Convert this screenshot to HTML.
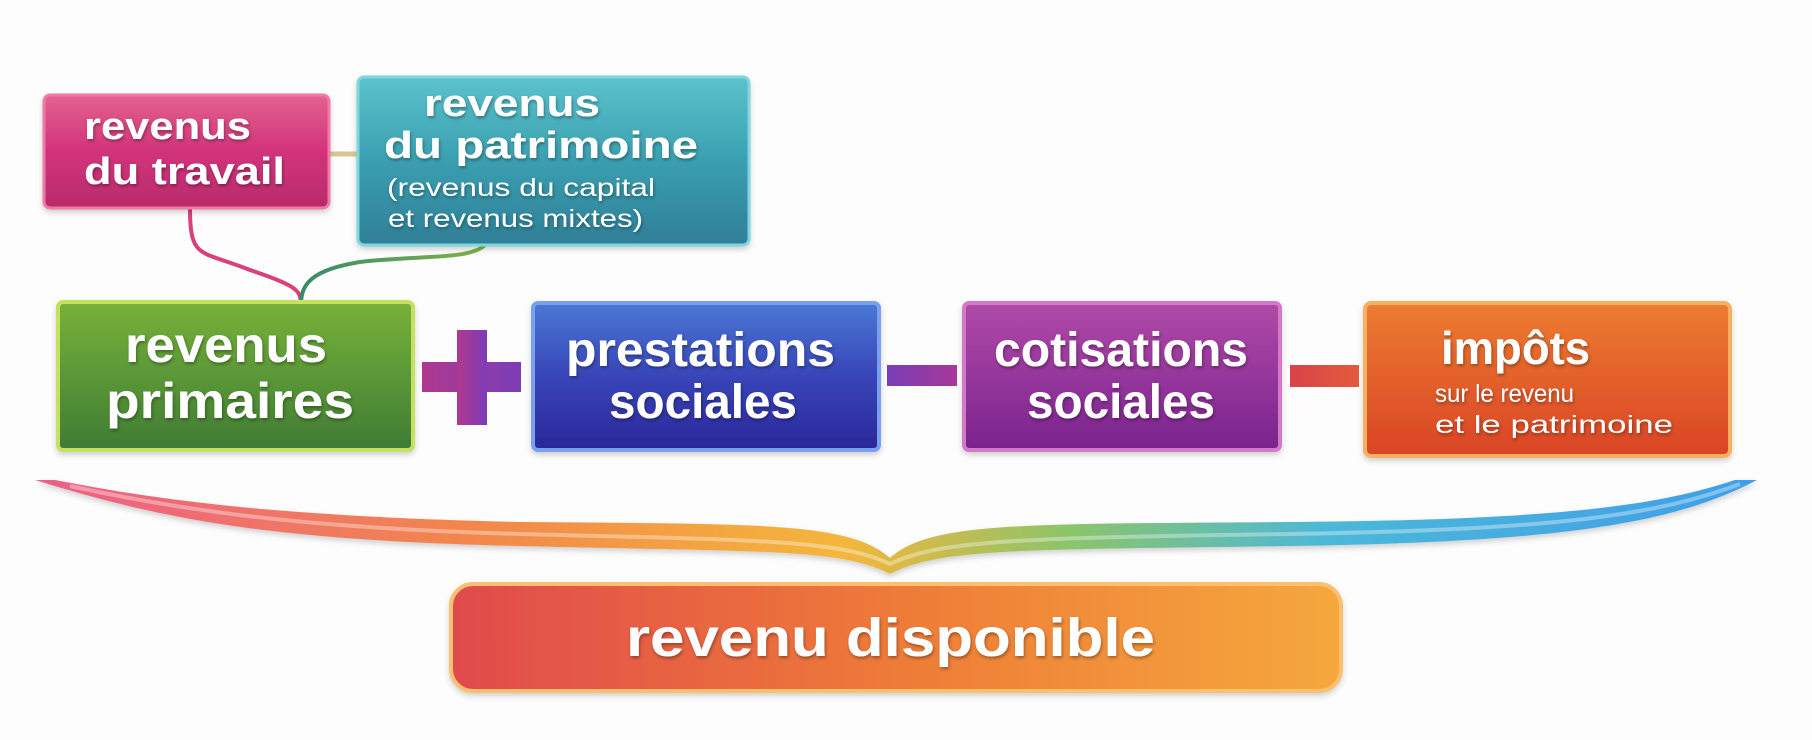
<!DOCTYPE html>
<html><head><meta charset="utf-8"><style>
html,body{margin:0;padding:0;background:#fdfdfd;}
svg{display:block;}
text{font-family:"Liberation Sans",sans-serif;fill:#fff;font-weight:bold;}
</style></head><body>
<svg width="1812" height="740" viewBox="0 0 1812 740" xmlns="http://www.w3.org/2000/svg">
<defs>
<linearGradient id="gPink" x1="0" y1="0" x2="0" y2="1"><stop offset="0" stop-color="#e2628e"/><stop offset="0.5" stop-color="#d2337c"/><stop offset="1" stop-color="#b92b6c"/></linearGradient>
<linearGradient id="gTeal" x1="0" y1="0" x2="0" y2="1"><stop offset="0" stop-color="#5cc2cc"/><stop offset="0.5" stop-color="#3a9fb0"/><stop offset="1" stop-color="#2f7f97"/></linearGradient>
<linearGradient id="gGreen" x1="0" y1="0" x2="0" y2="1"><stop offset="0" stop-color="#77b23a"/><stop offset="1" stop-color="#3f7c34"/></linearGradient>
<linearGradient id="gBlue" x1="0" y1="0" x2="0" y2="1"><stop offset="0" stop-color="#4a78d4"/><stop offset="0.5" stop-color="#3845b8"/><stop offset="1" stop-color="#2a279a"/></linearGradient>
<linearGradient id="gPurple" x1="0" y1="0" x2="0" y2="1"><stop offset="0" stop-color="#b04aa8"/><stop offset="1" stop-color="#7a238e"/></linearGradient>
<linearGradient id="gOrange" x1="0" y1="0" x2="0" y2="1"><stop offset="0" stop-color="#ec7c30"/><stop offset="1" stop-color="#da4426"/></linearGradient>
<linearGradient id="gBottom" x1="0" y1="0" x2="1" y2="0"><stop offset="0" stop-color="#e04a4c"/><stop offset="0.5" stop-color="#ee7b38"/><stop offset="1" stop-color="#f5a83c"/></linearGradient>
<linearGradient id="gPlus" x1="0" y1="0" x2="1" y2="0"><stop offset="0" stop-color="#b0388e"/><stop offset="1" stop-color="#7b3db8"/></linearGradient>
<linearGradient id="gMin1" x1="0" y1="0" x2="1" y2="0"><stop offset="0" stop-color="#7a3db8"/><stop offset="1" stop-color="#a83898"/></linearGradient>
<linearGradient id="gMin2" x1="0" y1="0" x2="1" y2="0"><stop offset="0" stop-color="#d8444a"/><stop offset="1" stop-color="#e45a3c"/></linearGradient>
<linearGradient id="gBrace" x1="0" y1="0" x2="1" y2="0"><stop offset="0" stop-color="#ec5f8a"/><stop offset="0.25" stop-color="#f2864c"/><stop offset="0.47" stop-color="#f4b63c"/><stop offset="0.6" stop-color="#8cc46a"/><stop offset="0.75" stop-color="#4cb8d8"/><stop offset="1" stop-color="#3f9ee8"/></linearGradient>
<linearGradient id="gConn" x1="0" y1="0" x2="1" y2="0"><stop offset="0" stop-color="#3a8a6a"/><stop offset="1" stop-color="#7fb34a"/></linearGradient>
<filter id="sh" x="-10%" y="-10%" width="120%" height="130%"><feDropShadow dx="0" dy="3" stdDeviation="3" flood-color="#000" flood-opacity="0.18"/></filter>
<filter id="ts"><feDropShadow dx="1" dy="2" stdDeviation="1.5" flood-color="#000" flood-opacity="0.35"/></filter>
</defs>

<!-- connectors -->
<path d="M329 154 L358 154" stroke="#d8c890" stroke-width="5"/>
<path d="M190 208 C190 260 200 250 250 270 C295 285 300 290 301 302" stroke="#d8407e" stroke-width="4" fill="none"/>
<path d="M485 245 C470 260 420 255 360 262 C310 270 302 285 301 302" stroke="url(#gConn)" stroke-width="4" fill="none"/>

<!-- top boxes -->
<rect x="44" y="95" width="285" height="113" rx="6" fill="url(#gPink)" stroke="#f07aa5" stroke-width="3" filter="url(#sh)"/>
<g filter="url(#ts)" lengthAdjust="spacingAndGlyphs">
<text x="84" y="139" font-size="38" textLength="167" lengthAdjust="spacingAndGlyphs">revenus</text>
<text x="84" y="184" font-size="38" textLength="201" lengthAdjust="spacingAndGlyphs">du travail</text>
</g>
<rect x="358" y="77" width="391" height="168" rx="6" fill="url(#gTeal)" stroke="#7ed6de" stroke-width="3" filter="url(#sh)"/>
<g filter="url(#ts)">
<text x="424" y="116" font-size="38" textLength="176" lengthAdjust="spacingAndGlyphs">revenus</text>
<text x="384" y="158" font-size="38" textLength="314" lengthAdjust="spacingAndGlyphs">du patrimoine</text>
<text x="387" y="196" font-size="25" style="font-weight:normal" textLength="268" lengthAdjust="spacingAndGlyphs">(revenus du capital</text>
<text x="388" y="227" font-size="25" style="font-weight:normal" textLength="255" lengthAdjust="spacingAndGlyphs">et revenus mixtes)</text>
</g>

<!-- main row -->
<rect x="58" y="302" width="355" height="148" rx="5" fill="url(#gGreen)" stroke="#c6e060" stroke-width="4" filter="url(#sh)"/>
<g filter="url(#ts)">
<text x="125" y="362" font-size="50" textLength="202" lengthAdjust="spacingAndGlyphs">revenus</text>
<text x="106" y="418" font-size="50" textLength="248" lengthAdjust="spacingAndGlyphs">primaires</text>
</g>
<rect x="422" y="362" width="99" height="30" fill="url(#gPlus)"/>
<rect x="457" y="330" width="30" height="95" fill="url(#gPlus)"/>

<rect x="533" y="303" width="346" height="147" rx="5" fill="url(#gBlue)" stroke="#7aa0ec" stroke-width="4" filter="url(#sh)"/>
<g filter="url(#ts)">
<text x="566" y="366" font-size="48" textLength="269" lengthAdjust="spacingAndGlyphs">prestations</text>
<text x="609" y="418" font-size="48" textLength="188" lengthAdjust="spacingAndGlyphs">sociales</text>
</g>
<rect x="887" y="365" width="70" height="21" fill="url(#gMin1)"/>

<rect x="964" y="303" width="316" height="147" rx="5" fill="url(#gPurple)" stroke="#d27ac8" stroke-width="4" filter="url(#sh)"/>
<g filter="url(#ts)">
<text x="994" y="366" font-size="48" textLength="254" lengthAdjust="spacingAndGlyphs">cotisations</text>
<text x="1027" y="418" font-size="48" textLength="188" lengthAdjust="spacingAndGlyphs">sociales</text>
</g>
<rect x="1290" y="365" width="69" height="22" fill="url(#gMin2)"/>

<rect x="1365" y="303" width="365" height="153" rx="6" fill="url(#gOrange)" stroke="#f6b060" stroke-width="4" filter="url(#sh)"/>
<g filter="url(#ts)">
<text x="1441" y="364" font-size="46" textLength="149" lengthAdjust="spacingAndGlyphs">impôts</text>
<text x="1435" y="402" font-size="25" style="font-weight:normal" textLength="139" lengthAdjust="spacingAndGlyphs">sur le revenu</text>
<text x="1435" y="433" font-size="25" style="font-weight:normal" textLength="238" lengthAdjust="spacingAndGlyphs">et le patrimoine</text>
</g>

<!-- brace -->
<path d="M35 480 C150 515 250 540 520 546 C760 552 840 548 890 574 C940 548 1020 550 1290 546 C1580 542 1680 520 1757 480 L1735 480 C1660 505 1560 520 1290 522 C1020 524 930 522 890 558 C850 522 760 524 520 522 C250 516 140 496 55 480 Z" fill="url(#gBrace)" filter="url(#sh)"/>
<path d="M70 486 C180 510 300 528 520 534 C760 540 840 540 890 564 C940 540 1020 538 1290 534 C1560 530 1660 514 1740 484" stroke="#fff" stroke-opacity="0.35" stroke-width="4" fill="none"/>

<!-- bottom -->
<rect x="451" y="584" width="890" height="107" rx="22" fill="url(#gBottom)" stroke="#f8c070" stroke-width="4" filter="url(#sh)"/>
<g filter="url(#ts)">
<text x="626" y="656" font-size="54" textLength="529" lengthAdjust="spacingAndGlyphs">revenu disponible</text>
</g>
</svg>
</body></html>
